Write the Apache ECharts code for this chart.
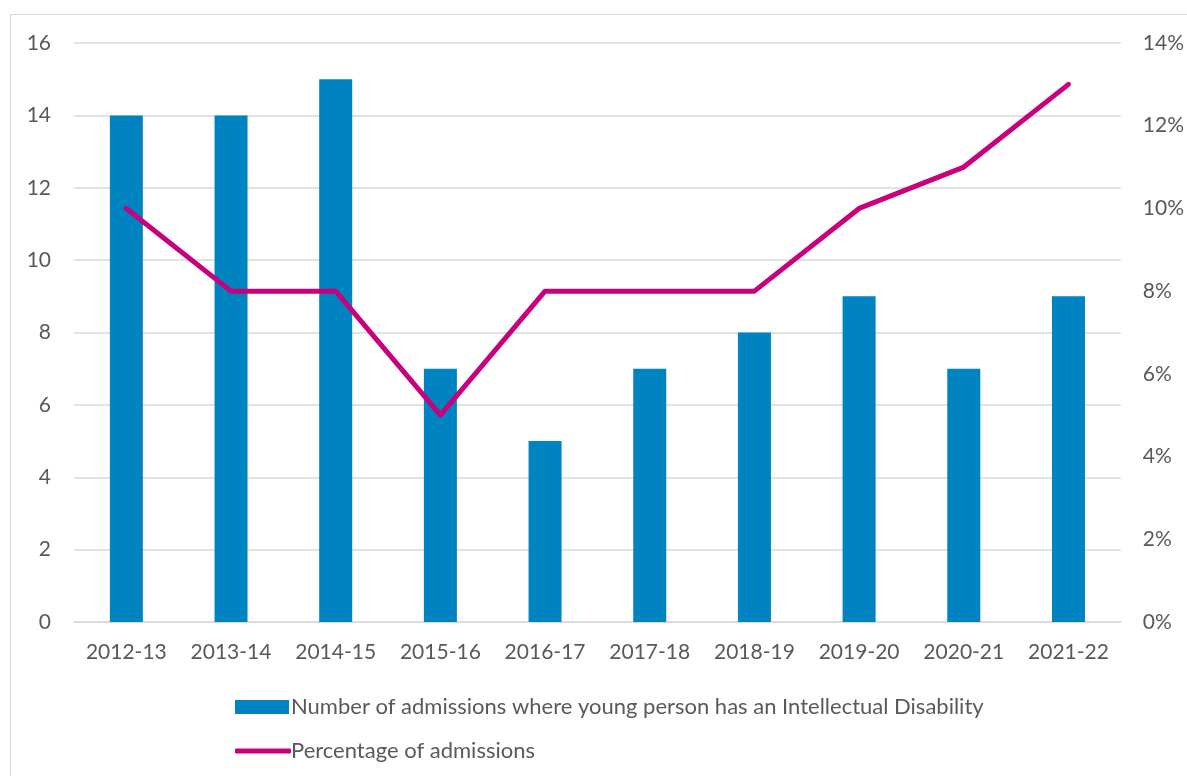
<!DOCTYPE html>
<html><head><meta charset="utf-8">
<script src="https://cdn.jsdelivr.net/npm/echarts@6/dist/echarts.min.js"></script>
<style>
html,body{margin:0;padding:0;background:#fff;overflow:hidden}
#frame{position:absolute;left:10px;top:14px;width:1400px;height:1000px;border:1px solid #d9d9d9}
#c{position:absolute;left:0;top:0;width:1187px;height:776px}
</style></head><body>
<div id="frame"></div>
<div id="c"></div>
<script>
const categories = ['2012-13','2013-14','2014-15','2015-16','2016-17','2017-18','2018-19','2019-20','2020-21','2021-22'];
const admissions = [14,14,15,7,5,7,8,9,7,9];
const percentage = [10,8,8,5,8,8,8,10,11,13];
const leftTicks = [0,16,2];
const rightTicks = [0,14,2];
const barName = 'Number of admissions where young person has an Intellectual Disability';
const lineName = 'Percentage of admissions';

const font = 'Lato, Open Sans, sans-serif';
const txt = '#595959';
const chart = echarts.init(document.getElementById('c'));
chart.setOption({
  animation:false,
  textStyle:{fontFamily:font},
  grid:{left:74,right:62,top:43,bottom:154,containLabel:false},
  legend:[
    {data:[barName],left:230,top:691,itemWidth:54,itemHeight:14,itemGap:0,icon:'rect',
     textStyle:{color:txt,fontSize:22,fontFamily:font,padding:[0,0,0,-3]}},
    {data:[lineName],left:230,top:735,itemWidth:56,itemHeight:5,itemGap:0,icon:'roundRect',
     textStyle:{color:txt,fontSize:22,fontFamily:font,padding:[0,0,0,-5]}}
  ],
  xAxis:{type:'category',data:categories,
    axisLine:{lineStyle:{color:'#d9d9d9',width:1.5}},axisTick:{show:false},
    axisLabel:{color:txt,fontSize:21,margin:20,fontFamily:font,interval:0}},
  yAxis:[
    {type:'value',min:leftTicks[0],max:leftTicks[1],interval:leftTicks[2],
     axisLine:{show:false},axisTick:{show:false},
     splitLine:{lineStyle:{color:'#d9d9d9',width:1.5}},
     axisLabel:{color:txt,fontSize:21,margin:23,fontFamily:font}},
    {type:'value',min:rightTicks[0],max:rightTicks[1],interval:rightTicks[2],
     axisLine:{show:false},axisTick:{show:false},splitLine:{show:false},
     axisLabel:{color:txt,fontSize:21,margin:22,fontFamily:font,formatter:'{value}%'}}
  ],
  series:[
    {name:barName,type:'bar',data:admissions,barWidth:33,
     itemStyle:{color:'#0083C1'}},
    {name:lineName,type:'line',yAxisIndex:1,data:percentage,symbol:'none',
     lineStyle:{color:'#C8007E',width:5,cap:'round',join:'round'},itemStyle:{color:'#C8007E'}}
  ]
});
</script>
</body></html>
